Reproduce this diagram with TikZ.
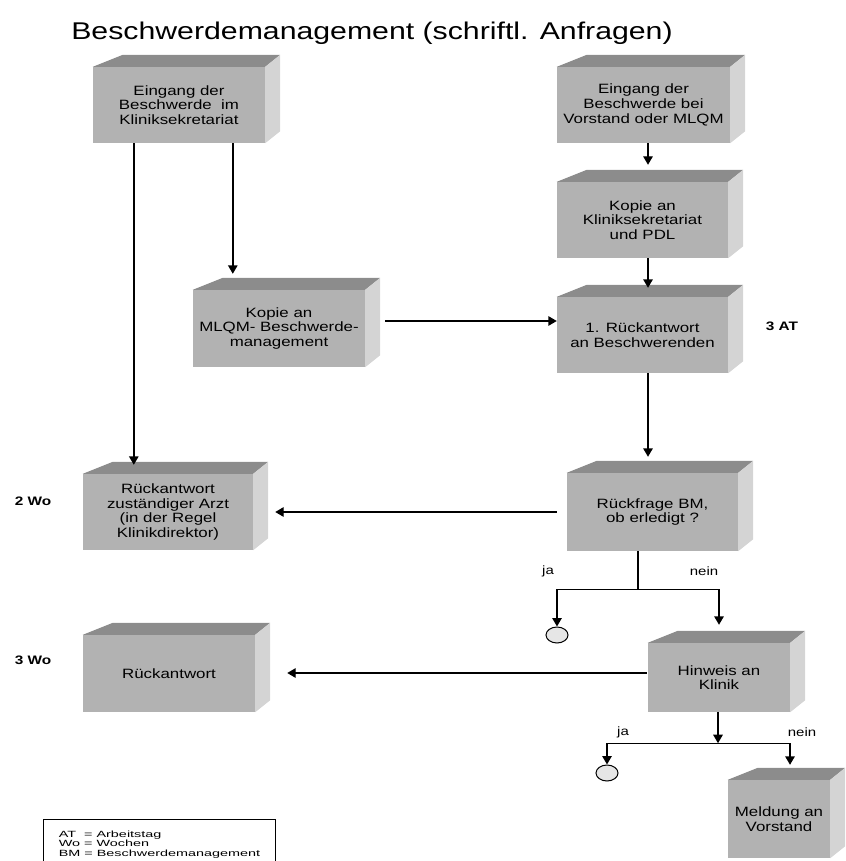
\documentclass[tikz,border=0pt]{standalone}
\usepackage{fontspec}
\setmainfont{Liberation Sans}
\newfontfamily\boxfont[FakeStretch=1.25]{Liberation Sans}
\newfontfamily\legfont[FakeStretch=1.6]{Liberation Sans}
\usetikzlibrary{arrows.meta,calc,shapes.geometric}
\definecolor{cubefront}{RGB}{178,178,178}
\definecolor{cubetop}{RGB}{140,140,140}
\definecolor{cubeside}{RGB}{212,212,212}
\definecolor{endfill}{RGB}{230,230,230}
\newcommand\cubefaces[1]{%
  \fill[cubetop] (#1.north west) -- ++(30,-12) -- ($(#1.north east)+(15,-12)$) -- (#1.north east) -- cycle;
  \fill[cubeside] (#1.north east) -- ++(15,-12) -- ($(#1.south east)+(15,-12)$) -- (#1.south east) -- cycle;}
\tikzset{
  cubebox/.style={fill=cubefront, inner sep=0pt, align=center,
    font=\boxfont\fontsize{13.5}{14.7}\selectfont},
  arr/.style={line width=1.4pt, -{Triangle[length=8.5pt,width=9.5pt]}},
  ln/.style={line width=1.4pt},
  dur/.style={font=\boxfont\bfseries\fontsize{12.3}{14}\selectfont},
  yn/.style={font=\boxfont\fontsize{12}{13}\selectfont},
  endpt/.style={ellipse, draw, fill=endfill, line width=1pt, minimum width=22pt, minimum height=16pt, inner sep=0pt},
}
\begin{document}
\begin{tikzpicture}[x=1pt,y=-1pt]
\useasboundingbox (0,0) rectangle (845,861);
\node[font=\boxfont\fontsize{24.2}{28}\selectfont] (title) at (372,33) {Beschwerdemanagement (schriftl. Anfragen)};

\node[cubebox, minimum width=172pt, minimum height=76pt] (b1) at (179,105) {Eingang der\\Beschwerde~ im\\Kliniksekretariat};
\node[cubebox, minimum width=173pt, minimum height=76pt] (b2) at (643.5,105) {Eingang der\\Beschwerde bei\\Vorstand oder MLQM};
\node[cubebox, minimum width=171pt, minimum height=76pt] (b3) at (642.5,220) {Kopie an\\Kliniksekretariat\\und PDL};
\node[cubebox, minimum width=172pt, minimum height=77pt] (b4) at (279,328.5) {Kopie an\\MLQM- Beschwerde-\\management};
\node[cubebox, minimum width=171pt, minimum height=76pt] (b5) at (642.5,335) {1. R\"uckantwort\\an Beschwerenden};
\node[cubebox, minimum width=170pt, minimum height=76pt] (b6) at (168,512) {R\"uckantwort\\zust\"andiger Arzt\\(in der Regel\\Klinikdirektor)};
\node[cubebox, minimum width=171pt, minimum height=78pt] (b7) at (652.5,512) {R\"uckfrage BM,\\ob erledigt ?};
\node[cubebox, minimum width=142pt, minimum height=69pt] (b8) at (719,677.5) {Hinweis an\\Klinik};
\node[cubebox, minimum width=172pt, minimum height=77pt] (b9) at (169,673.5) {R\"uckantwort};
\node[cubebox, minimum width=102pt, minimum height=78pt] (b10) at (779,819) {Meldung an\\Vorstand};
\foreach \b in {b1,b2,b3,b4,b5,b6,b7,b8,b9,b10} {\cubefaces{\b}}

\node[endpt] (c1) at (557,635) {};
\node[endpt] (c2) at (607,773) {};

\node[dur] (l3at) at (782,326) {3 AT};
\node[dur] (l2wo) at (33,501) {2 Wo};
\node[dur] (l3wo) at (33,660) {3 Wo};
\node[yn] (ja1) at (548,571) {ja};
\node[yn] (nein1) at (704,571) {nein};
\node[yn] (ja2) at (623,732) {ja};
\node[yn] (nein2) at (802,732) {nein};

\node[draw, line width=1pt, align=left, minimum width=232pt, minimum height=50pt, anchor=north west,
  font=\legfont\fontsize{9}{9.5}\selectfont] (legend) at (43,819)
  {AT~~= Arbeitstag\\Wo = Wochen\\BM = Beschwerdemanagement};

% connectors
\draw[arr] ([xshift=41pt]b1.south west) -- ([xshift=51pt,yshift=9pt]b6.north west);
\draw[arr] ([xshift=140pt]b1.south west) -- ([xshift=40pt,yshift=16pt]b4.north west);
\draw[arr] ([xshift=4.5pt]b2.south) -- ([xshift=5.5pt,yshift=17pt]b3.north);
\draw[arr] ([xshift=5.5pt]b3.south) -- ([xshift=5.5pt,yshift=9pt]b5.north);
\draw[arr] ([xshift=20pt,yshift=7.5pt]b4.east) -- ([yshift=14pt]b5.west);
\draw[arr] ([xshift=5.5pt]b5.south) -- ([xshift=-4.5pt,yshift=16pt]b7.north);
\draw[arr] ([xshift=-10pt]b7.west) -- ([xshift=22pt]b6.east);

\coordinate (j1) at ($(b7.south)+(-14.5,38)$);
\coordinate (n8) at ([yshift=18pt]b8.north);
\draw[ln] ([xshift=-14.5pt]b7.south) -- (j1);
\draw[ln] (j1 -| c1) -- (j1 -| n8);
\draw[arr] (j1 -| c1) -- (c1.north);
\draw[arr] (j1 -| n8) -- (n8);

\draw[arr] ([xshift=-1pt,yshift=4.5pt]b8.west) -- ([xshift=32pt,yshift=0.5pt]b9.east);

\coordinate (j2) at ($(b8.south)+(-1,31)$);
\coordinate (n10) at ([xshift=11pt,yshift=15pt]b10.north);
\draw[arr] ([xshift=-1pt]b8.south) -- (j2);
\draw[ln] (j2 -| c2) -- (j2 -| n10);
\draw[arr] (j2 -| c2) -- (c2.north);
\draw[arr] (j2 -| n10) -- (n10);
\end{tikzpicture}
\end{document}
